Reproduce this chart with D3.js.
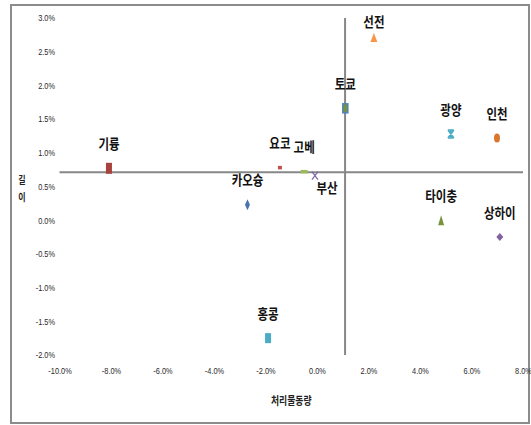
<!DOCTYPE html>
<html>
<head>
<meta charset="utf-8">
<script src="https://cdn.jsdelivr.net/npm/d3@7"></script>
<style>
  html, body { margin: 0; padding: 0; background: #fff; }
  svg { display: block; }
</style>
</head>
<body>
<svg id="chart" width="531" height="425"></svg>
<script>
// Port names and their coordinates (percent): x = 처리물동량, y = 길이
const ports = ["기륭", "카오슝", "요코", "고베", "부산", "토쿄", "선전", "광양", "인천", "타이충", "상하이", "홍콩"];
const xValues = [-8.08, -2.70, -1.44, -0.50, -0.08, 1.10, 2.21, 5.20, 6.99, 4.82, 7.10, -1.90];
const yValues = [0.77, 0.23, 0.78, 0.72, 0.66, 1.66, 2.71, 1.28, 1.22, 0.00, -0.25, -1.75];

// Tick labels
const xTicks = [-10, -8, -6, -4, -2, 0, 2, 4, 6, 8];
const yTicks = [3.0, 2.5, 2.0, 1.5, 1.0, 0.5, 0.0, -0.5, -1.0, -1.5, -2.0];

// Where the two axes cross
const xCross = 1.09;
const yCross = 0.71;

// Marker style per port
const markers = [
  { shape: "rect", w: 6, h: 11, fill: "#A8423E" },
  { shape: "diamond", w: 5, h: 11, fill: "#4A74AE" },
  { shape: "rect", w: 4, h: 3.5, fill: "#C0504D" },
  { shape: "rect", w: 7, h: 3.5, fill: "#9BBB59" },
  { shape: "x", w: 6, h: 8, stroke: "#8064A2" },
  { shape: "rect", w: 5, h: 9, fill: "#77933C", stroke: "#4F81BD" },
  { shape: "triangle", w: 7, h: 9, fill: "#F79646" },
  { shape: "star", w: 6, h: 8, stroke: "#4BACC6" },
  { shape: "ellipse", w: 6, h: 9, fill: "#D9772F" },
  { shape: "triangle", w: 6, h: 10, fill: "#77933C" },
  { shape: "diamond", w: 7, h: 8, fill: "#8064A2" },
  { shape: "rect", w: 6, h: 10, fill: "#4BACC6" }
];
// Label placement relative to marker
const labelOffsets = ports.map(p =>
  p === "부산" ? [12, 13] : p === "선전" ? [0, -14] : [0, -23]);

const svg = d3.select("#chart");

// Outer frame
svg.append("rect")
  .attr("x", 11).attr("y", 5).attr("width", 518).attr("height", 418)
  .attr("fill", "none").attr("stroke", "#8c8c8c").attr("stroke-width", 2);

const x = d3.scaleLinear().domain([-10, 8]).range([59.5, 523]);
const y = d3.scaleLinear().domain([-2, 3]).range([355, 18]);

const fmt = v => v.toFixed(1) + "%";

// Tick labels (placed low / left, axes lines drawn separately at the crossing)
const gx = svg.append("g")
  .attr("transform", "translate(0,366)")
  .call(d3.axisBottom(x).tickValues(xTicks).tickFormat(fmt).tickSize(0).tickPadding(0));
const gy = svg.append("g")
  .attr("transform", "translate(55,0)")
  .call(d3.axisLeft(y).tickValues(yTicks).tickFormat(fmt).tickSize(0).tickPadding(0));
[gx, gy].forEach(g => {
  g.select(".domain").remove();
  g.selectAll("text")
    .attr("font-family", "'Liberation Sans', Arial, sans-serif")
    .attr("font-size", 9)
    .attr("fill", "#2a2a2a")
    .attr("transform", "scale(0.82,1)");
});
gx.selectAll("text").attr("dy", "0.9em");

// Axis lines through the crossing point
svg.append("line")
  .attr("x1", x(-10)).attr("x2", x(8))
  .attr("y1", y(yCross)).attr("y2", y(yCross))
  .attr("stroke", "#878787").attr("stroke-width", 2);
svg.append("line")
  .attr("x1", x(xCross)).attr("x2", x(xCross))
  .attr("y1", y(3)).attr("y2", y(-2))
  .attr("stroke", "#878787").attr("stroke-width", 2);

// Axis titles
svg.append("text")
  .attr("transform", `translate(${(x(-10) + x(8)) / 2},402) scale(0.8,1)`)
  .attr("text-anchor", "middle").attr("dominant-baseline", "middle")
  .attr("font-family", "'Noto Sans CJK KR', sans-serif").attr("font-weight", "bold")
  .attr("font-size", 11).attr("fill", "#222").text("처리물동량");
["길", "이"].forEach((ch, i) => {
  svg.append("text")
    .attr("transform", `translate(22,${181 + i * 17}) scale(0.8,1)`)
    .attr("text-anchor", "middle").attr("dominant-baseline", "middle")
    .attr("font-family", "'Noto Sans CJK KR', sans-serif").attr("font-weight", "bold")
    .attr("font-size", 10).attr("fill", "#222").text(ch);
});

// Markers
const pts = ports.map((p, i) => ({ name: p, x: xValues[i], y: yValues[i], m: markers[i], off: labelOffsets[i] }));

const g = svg.append("g");
pts.forEach(d => {
  const cx = x(d.x), cy = y(d.y), m = d.m, hw = m.w / 2, hh = m.h / 2;
  if (m.shape === "rect") {
    g.append("rect").attr("x", cx - hw).attr("y", cy - hh).attr("width", m.w).attr("height", m.h)
      .attr("fill", m.fill).attr("stroke", m.stroke || "none").attr("stroke-width", m.stroke ? 1.5 : 0);
  } else if (m.shape === "diamond") {
    g.append("path").attr("d", `M${cx},${cy - hh}L${cx + hw},${cy}L${cx},${cy + hh}L${cx - hw},${cy}Z`)
      .attr("fill", m.fill);
  } else if (m.shape === "triangle") {
    g.append("path").attr("d", `M${cx},${cy - hh}L${cx + hw},${cy + hh}L${cx - hw},${cy + hh}Z`)
      .attr("fill", m.fill);
  } else if (m.shape === "ellipse") {
    g.append("ellipse").attr("cx", cx).attr("cy", cy).attr("rx", hw).attr("ry", hh).attr("fill", m.fill);
  } else if (m.shape === "x") {
    g.append("path").attr("d", `M${cx - hw},${cy - hh}L${cx + hw},${cy + hh}M${cx + hw},${cy - hh}L${cx - hw},${cy + hh}`)
      .attr("stroke", m.stroke).attr("stroke-width", 1.2).attr("fill", "none");
  } else if (m.shape === "star") {
    g.append("path").attr("d",
      `M${cx - hw},${cy - hh}L${cx + hw},${cy + hh}M${cx + hw},${cy - hh}L${cx - hw},${cy + hh}` +
      `M${cx - hw},${cy - hh}L${cx + hw},${cy - hh}M${cx - hw},${cy + hh}L${cx + hw},${cy + hh}M${cx},${cy - hh}L${cx},${cy + hh}`)
      .attr("stroke", m.stroke).attr("stroke-width", 1.6).attr("fill", "none");
  }
});

// Port labels
pts.forEach(d => {
  svg.append("text")
    .attr("transform", `translate(${x(d.x) + d.off[0]},${y(d.y) + d.off[1]}) scale(0.82,1)`)
    .attr("text-anchor", "middle").attr("dominant-baseline", "middle")
    .attr("font-family", "'Noto Sans CJK KR', sans-serif").attr("font-weight", "bold")
    .attr("font-size", 14).attr("fill", "#111").text(d.name);
});
</script>
</body>
</html>
